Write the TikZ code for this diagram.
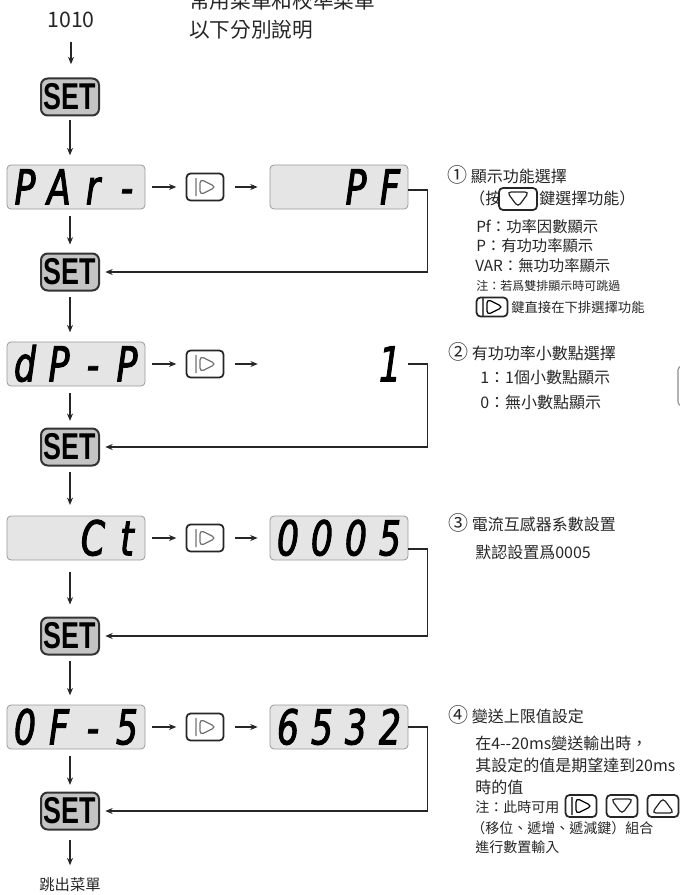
\documentclass[tikz,border=0pt]{standalone}
\usepackage{fontspec}
\setmainfont{Noto Sans CJK TC}
\newfontfamily\lcdfont{DejaVu Sans}[FakeStretch=0.72, FakeBold=2]
\newfontfamily\btnfont{Liberation Sans}[FakeStretch=0.72]
\usepackage{tikz}
\usetikzlibrary{arrows.meta}
\usetikzlibrary{calc}

\newcommand\lcd[4]{{\lcdfont\itshape\fontsize{36}{36}\selectfont
  \makebox[25.5pt]{#1}\makebox[25.5pt]{#2}\makebox[25.5pt]{#3}\makebox[25.5pt]{#4}}}
\newcommand\circnum[1]{{\fontsize{15}{15}\selectfont #1}}

\tikzset{
  setbtn/.style={draw=black!80, line width=1.5pt, fill=black!23, rounded corners=5pt, minimum width=43.5pt, minimum height=27.75pt, inner sep=0pt, font=\btnfont\bfseries\fontsize{28}{28}\selectfont},
  lcdbox/.style={draw=black!40, line width=0.6pt, fill=black!10, rounded corners=3pt, minimum width=103.5pt, minimum height=33pt, inner sep=0pt, text height=26pt, text depth=0pt},
  lcdblank/.style={minimum width=103.5pt, minimum height=33pt, inner sep=0pt, text height=26pt, text depth=0pt},
  keybox/.style={draw=black!85, line width=1.3pt, fill=white, rounded corners=3pt, inner sep=0pt},
  glyphcol/.style={black},
  rglyph/.style={path picture={\draw[glyphcol, line width=0.9pt, shift={(path picture bounding box.center)}, scale=#1] (-9,-9) -- (-9,9) (-5,-8) -- (11,0) -- (-5,8) -- cycle;}},
  % path picture ignores yscale=-1, so y points up in these two
  dglyph/.style={path picture={\draw[line width=0.9pt, shift={(path picture bounding box.center)}, scale=#1] (-11,7) -- (11,7) -- (0,-8) -- cycle;}},
  uglyph/.style={path picture={\draw[line width=0.9pt, shift={(path picture bounding box.center)}, scale=#1] (-11,-7) -- (11,-7) -- (0,8) -- cycle;}},
  shiftkey/.style={keybox, glyphcol/.style={black!55}, rglyph=1.1, minimum width=27.75pt, minimum height=20.25pt},
  flow/.style={-{Stealth[length=5.5pt,width=4.5pt]}, line width=0.8pt, black!85},
  head/.style={anchor=west, inner sep=0.75pt, text=black!85, font=\fontsize{12}{14}\selectfont},
  body/.style={anchor=west, inner sep=0.75pt, text=black!85, font=\fontsize{11.5}{13}\selectfont},
  small/.style={anchor=west, inner sep=0.75pt, text=black!85, font=\fontsize{9}{11}\selectfont}
}

\begin{document}
\begin{tikzpicture}[x=0.75pt,y=0.75pt,yscale=-1,xscale=1]
%set diagram left start at 0, and has height of 895
\useasboundingbox (0,0) rectangle (680,895);

% Text Node
\node (t1010) at (71,20) [text=black!85, font=\fontsize{16}{18}\selectfont] {1010};
% Text Node
\node (ttl1) at (188,1) [head, font=\fontsize{15.5}{17}\selectfont] {常用菜單和校準菜單};
% Text Node
\node (ttl2) at (188,30) [head, font=\fontsize{15.5}{17}\selectfont] {以下分別說明};
% Text Node
\node (quit) at (70,885) [text=black!85, font=\fontsize{11.5}{13}\selectfont] {跳出菜單};

%Shape: SET keys
\node (set0) at (70,97) [setbtn] {SET};
\node (set1) at (70,272) [setbtn] {SET};
\node (set2) at (70,447) [setbtn] {SET};
\node (set3) at (70,636) [setbtn] {SET};
\node (set4) at (70,811) [setbtn] {SET};

%Shape: displays
\node (par) at (76,187) [lcdbox] {\lcd{P}{A}{r}{-}};
\node (pf) at (339,187) [lcdbox] {\lcd{}{}{P}{F}};
\node (dpp) at (76,364) [lcdbox] {\lcd{d}{P}{-}{P}};
\node (one) at (339,364) [lcdblank] {\lcd{}{}{}{1}};
\node (ct) at (76,538) [lcdbox] {\lcd{}{}{C}{t}};
\node (ctval) at (339,538) [lcdbox] {\lcd{0}{0}{0}{5}};
\node (ofs) at (76,727) [lcdbox] {\lcd{0}{F}{-}{5}};
\node (ofsval) at (339,727) [lcdbox] {\lcd{6}{5}{3}{2}};

%Shape: shift keys
\node (k1) at (205,187) [shiftkey] {};
\node (k2) at (205,364) [shiftkey] {};
\node (k3) at (205,538) [shiftkey] {};
\node (k4) at (205,727) [shiftkey] {};

%Straight Lines
\draw[flow, shorten <=7pt, shorten >=10pt] (t1010.south) -- (t1010.south |- set0.north);
\draw[flow, shorten <=3pt, shorten >=7pt] (set0.south) -- (set0.south |- par.north);
\draw[flow, shorten <=5pt, shorten >=6pt] (set1.north |- par.south) -- (set1.north);
\draw[flow, shorten <=4pt, shorten >=7pt] (set1.south) -- (set1.south |- dpp.north);
\draw[flow, shorten <=5pt, shorten >=5pt] (set2.north |- dpp.south) -- (set2.north);
\draw[flow, shorten <=4pt, shorten >=8pt] (set2.south) -- (set2.south |- ct.north);
\draw[flow, shorten <=9pt, shorten >=9pt] (set3.north |- ct.south) -- (set3.north);
\draw[flow, shorten <=4pt, shorten >=7pt] (set3.south) -- (set3.south |- ofs.north);
\draw[flow, shorten <=5pt, shorten >=5pt] (set4.north |- ofs.south) -- (set4.north);
\draw[flow, shorten <=7pt, shorten >=6pt] (set4.south) -- (quit.north -| set4.south);

%Straight Lines
\draw[flow, shorten <=5pt, shorten >=7pt] (par) -- (k1);
\draw[flow, shorten <=8pt, shorten >=9pt] (k1) -- (pf);
\draw[flow, shorten <=5pt, shorten >=7pt] (dpp) -- (k2);
\draw[flow, shorten <=8pt, shorten >=9pt] (k2) -- (one);
\draw[flow, shorten <=5pt, shorten >=7pt] (ct) -- (k3);
\draw[flow, shorten <=8pt, shorten >=9pt] (k3) -- (ctval);
\draw[flow, shorten <=5pt, shorten >=7pt] (ofs) -- (k4);
\draw[flow, shorten <=8pt, shorten >=9pt] (k4) -- (ofsval);

%Straight Lines
\draw[flow, shorten >=4pt] ($(pf.east)+(0,3)$) -- ++(19,0) |- (set1.east);
\draw[flow, shorten >=4pt] (one.east) -- ++(19,0) |- (set2.east);
\draw[flow, shorten >=4pt] ($(ctval.east)+(0,11)$) -- ++(19,0) |- (set3.east);
\draw[flow, shorten >=4pt] (ofsval.east) -- ++(19,0) |- (set4.east);

% Text Node
\node (n1) at (446,175) [head] {\circnum{①} 顯示功能選擇};
\node (n1a) at (468,198) [head] {（按};
\node (kd1) at (518,199) [keybox, dglyph=1, minimum width=28.5pt, minimum height=16.5pt] {};
\node (n1b) at (538,198) [head] {鍵選擇功能）};
\node (n1c) at (475,227) [body] {Pf：功率因數顯示};
\node (n1d) at (475,246) [body] {P：有功功率顯示};
\node (n1e) at (474,266) [body] {VAR：無功功率顯示};
\node (n1f) at (475,286) [small] {注：若爲雙排顯示時可跳過};
\node (kr1) at (492,307) [keybox, rglyph=0.75, minimum width=23.25pt, minimum height=14.25pt] {};
\node (n1g) at (510,307) [small, font=\fontsize{10}{12}\selectfont] {鍵直接在下排選擇功能};

% Text Node
\node (n2) at (447,352) [head] {\circnum{②} 有功功率小數點選擇};
\node (n2a) at (479,377) [head] {1：1個小數點顯示};
\node (n2b) at (479,402) [head] {0：無小數點顯示};
\draw[black!45, line width=0.8pt, rounded corners=3] (678,366) rectangle (700,406);

% Text Node
\node (n3) at (447,523) [head] {\circnum{③} 電流互感器系數設置};
\node (n3a) at (474,552) [head] {默認設置爲0005};

% Text Node
\node (n4) at (447,715) [head] {\circnum{④} 變送上限值設定};
\node (n4a) at (474,743) [head] {在4-{}-20ms變送輸出時，};
\node (n4b) at (474,765) [head] {其設定的值是期望達到20ms};
\node (n4c) at (474,787) [head] {時的值};
\node (n4d) at (474,807) [body, font=\fontsize{10.5}{12}\selectfont] {注：此時可用};
\node (kr4) at (581,806) [keybox, rglyph=0.85, minimum width=23.25pt, minimum height=16.5pt] {};
\node (kd4) at (622,806) [keybox, dglyph=0.85, minimum width=23.25pt, minimum height=16.5pt] {};
\node (ku4) at (663,806) [keybox, uglyph=0.85, minimum width=23.25pt, minimum height=16.5pt] {};
\node (n4e) at (470,828) [body, font=\fontsize{10.5}{12}\selectfont] {（移位、遞增、遞減鍵）組合};
\node (n4f) at (474,847) [body, font=\fontsize{10.5}{12}\selectfont] {進行數置輸入};
\end{tikzpicture}
\end{document}
